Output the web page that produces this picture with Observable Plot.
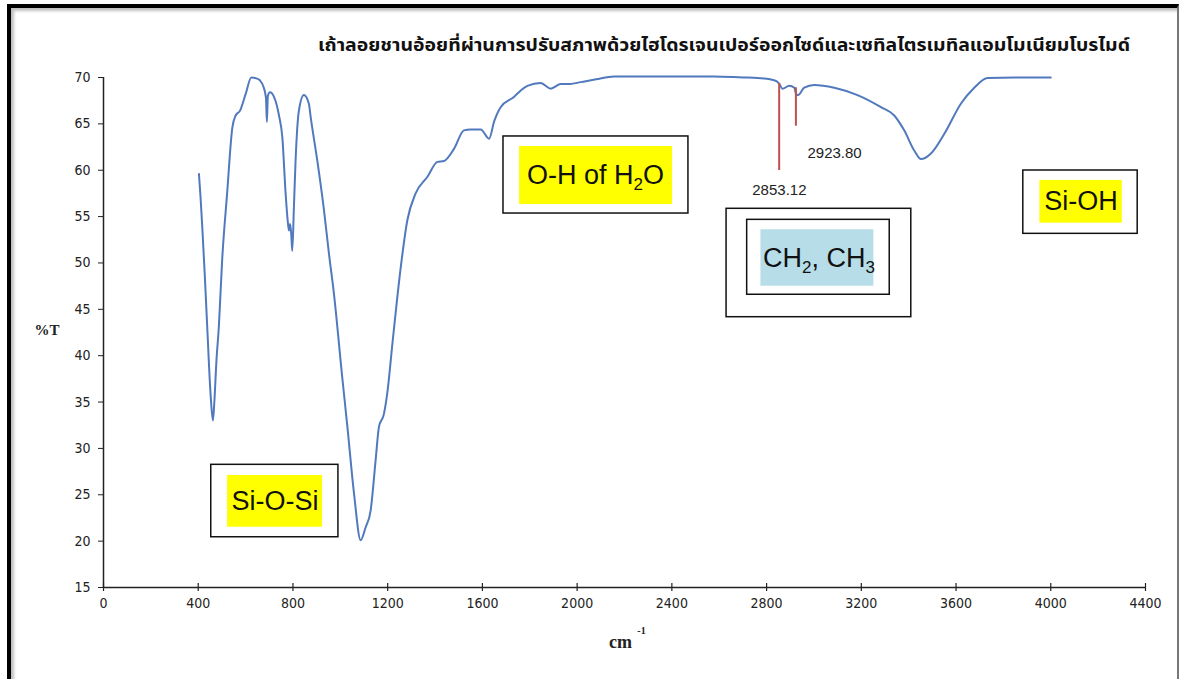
<!DOCTYPE html>
<html>
<head>
<meta charset="utf-8">
<script src="https://cdn.jsdelivr.net/npm/d3@7"></script>
<script src="https://cdn.jsdelivr.net/npm/@observablehq/plot@0.6"></script>
<style>
  body { margin: 0; background: #fff; }
  #wrap { position: relative; width: 1184px; height: 679px; overflow: hidden; background: #fff; }
  #frame { position: absolute; left: 7px; top: 4px; width: 1172px; height: 720px; box-sizing: border-box;
           border-left: 4px solid #000; border-top: 4px solid #000; border-right: 2px solid #777;
           box-shadow: inset 3px 3px 3px rgba(0,0,0,0.25); }
  #title { position: absolute; left: 318px; top: 31px; white-space: nowrap; transform-origin: left center;
           font-family: "Noto Sans Thai", "Noto Sans", "DejaVu Sans", sans-serif; font-weight: bold;
           font-size: 17px; color: #111; line-height: 30px; }
  #chart { position: absolute; left: 0; top: 60px; }
</style>
</head>
<body>
<div id="wrap">
  <div id="frame"></div>
  <div id="title">เถ้าลอยชานอ้อยที่ผ่านการปรับสภาพด้วยไฮโดรเจนเปอร์ออกไซด์และเซทิลไตรเมทิลแอมโมเนียมโบรไมด์</div>
  <div id="chart"></div>
</div>
<script>
// ---- data ----
const wavenumber = [403,410,417,428,438,452,462,468,477,487,501,522,544,558,576,600,624,645,660,677,686,690,694,703,720,741,755,769,778,783,788,793,797,804,811,825,846,867,875,903,931,952,973,1008,1030,1058,1086,1107,1128,1149,1163,1184,1198,1220,1255,1283,1318,1368,1410,1438,1480,1522,1550,1593,1628,1650,1677,1733,1762,1790,1846,1888,1931,1970,2015,2080,2156,2367,2578,2700,2762,2832,2853,2867,2896,2917,2925,2933,2959,3001,3086,3184,3283,3339,3381,3424,3452,3494,3550,3621,3677,3733,3850,4000];
const transmittance = [59.6,57.0,53.9,48.5,43.1,35.9,33.0,35.0,39.5,43.1,50.3,57.5,64.6,65.9,66.4,68.2,70.0,69.9,69.7,68.9,67.8,65.2,68.0,68.4,67.9,65.9,63.6,57.5,54.5,53.5,54.2,53.0,51.3,56.0,61.0,66.4,68.1,67.2,65.7,61.0,55.7,51.0,46.7,37.7,32.3,25.1,20.1,21.5,23.3,28.7,32.3,33.7,35.9,41.3,49.5,54.6,57.5,59.3,60.9,61.0,62.3,64.3,64.4,64.4,63.4,65.3,66.8,67.9,68.6,69.1,69.4,68.8,69.3,69.3,69.5,69.8,70.1,70.1,70.1,70.0,69.95,69.7,69.35,68.8,69.1,68.9,68.2,68.1,68.9,69.2,68.9,68.1,66.8,65.9,64.3,62.1,61.2,61.8,63.9,67.2,68.9,69.95,70.0,70.0];
const xTicks = [0,400,800,1200,1600,2000,2400,2800,3200,3600,4000,4400];
const yTicks = [15,20,25,30,35,40,45,50,55,60,65,70];
const peakWavenumbers = [2853.12, 2923.80];
const peakLabels = ["2853.12", "2923.80"];
const bandLabels = ["Si-O-Si", "O-H of H2O", "CH2, CH3", "Si-OH"];

// ---- annotation layout (data units) ----
const peakLayout = [
  {top: 69.35, bottom: 59.97, lx: 2854, ly: 57.8},
  {top: 68.9, bottom: 64.75, lx: 3087, ly: 61.8}
];
const bandLayout = [
  {outer: [455, 992, 20.42, 28.23], fill: [524, 925, 21.5, 27.08], color: "#ffff00", tx: 724, ty: 24.3},
  {outer: [1689, 2470, 55.33, 63.64], fill: [1757, 2403, 56.3, 62.56], color: "#ffff00", tx: 2078, ty: 59.4},
  {outer: [2631, 3411, 44.15, 55.84], inner: [2718, 3320, 46.57, 54.65], fill: [2776, 3253, 47.49, 53.58], color: "#b7dde8", tx: 3021, ty: 50.5},
  {outer: [3884, 4367, 53.14, 59.97], fill: [3954, 4302, 54.29, 58.9], color: "#ffff00", tx: 4128, ty: 56.6}
];

const spectrum = wavenumber.map((w, i) => ({w, t: transmittance[i]}));
const peaks = peakWavenumbers.map((w, i) => ({w, label: peakLabels[i], ...peakLayout[i]}));
const bands = bandLabels.map((label, i) => ({label, ...bandLayout[i]}));
const frames = [];
bands.forEach(b => { frames.push(b.outer); if (b.inner) frames.push(b.inner); });
const fills = bands.map(b => ({r: b.fill, color: b.color}));

const tickFont = "'DejaVu Sans Condensed', 'DejaVu Sans', sans-serif";
const labelFont = "'Liberation Sans', Arial, sans-serif";

const chart = Plot.plot({
  width: 1184, height: 619,
  marginLeft: 103, marginRight: 39, marginTop: 17, marginBottom: 92,
  x: {domain: [0, 4400]},
  y: {domain: [15, 70]},
  style: {background: "transparent", color: "#111", fontFamily: tickFont, fontSize: "14px"},
  marks: [
    Plot.rect(fills, {x1: d => d.r[0], x2: d => d.r[1], y1: d => d.r[2], y2: d => d.r[3], fill: d => d.color}),
    Plot.rect(frames, {x1: d => d[0], x2: d => d[1], y1: d => d[2], y2: d => d[3], fill: "none", stroke: "#111", strokeWidth: 1.5}),
    Plot.ruleY([15], {stroke: "#222", strokeWidth: 1.5}),
    Plot.ruleX([0], {stroke: "#222", strokeWidth: 1.5}),
    Plot.ruleX(xTicks, {x: d => d, y1: 15, y2: 15, insetTop: -4, insetBottom: -4, stroke: "#222", strokeWidth: 1.2}),
    Plot.axisX({ticks: xTicks, tickSize: 0, tickPadding: 11, label: null, tickFormat: d => String(d), fill: "#222"}),
    Plot.axisY({ticks: yTicks, tickSize: 5, tickPadding: 8, label: null, stroke: "#222", fill: "#222"}),
    Plot.text(["%T"], {frameAnchor: "left", dx: -69, dy: -2, fontFamily: "'Liberation Serif', serif", fontWeight: "bold", fontSize: 15, fill: "#222"}),
    Plot.text(["cm"], {frameAnchor: "bottom", dx: -4, dy: 60, fontFamily: "'Liberation Serif', serif", fontWeight: "bold", fontSize: 18, fill: "#222"}),
    Plot.text(["-1"], {frameAnchor: "bottom", dx: 17, dy: 46, fontFamily: "'Liberation Serif', serif", fontWeight: "bold", fontSize: 10, fill: "#222"}),
    Plot.line(spectrum, {x: "w", y: "t", stroke: "#5179bd", strokeWidth: 2, curve: "monotone-x"}),
    Plot.ruleX(peaks, {x: "w", y1: "top", y2: "bottom", stroke: "#c0504d", strokeWidth: 2}),
    Plot.text(peaks, {x: "lx", y: "ly", text: "label", fontFamily: labelFont, fontSize: 15, fill: "#222"}),
    Plot.text(bands, {x: "tx", y: "ty", text: "label", fontFamily: labelFont, fontSize: 27, fill: "#111"})
  ]
});
document.getElementById("chart").appendChild(chart);

// subscripts for chemical formulas
const subs = {"O-H of H2O": [["O-H of H", 0], ["2", 1], ["O", -1]], "CH2, CH3": [["CH", 0], ["2", 1], [", CH", -1], ["3", 1]]};
d3.select(chart).selectAll("text").each(function () {
  const parts = subs[this.textContent];
  if (!parts) return;
  const sel = d3.select(this);
  sel.text("");
  let sub = false;
  parts.forEach(([s, mode]) => {
    const t = sel.append("tspan").text(s);
    if (mode === 1) { t.attr("font-size", 17).attr("dy", sub ? null : "0.35em"); sub = true; }
    else if (mode === -1) { t.attr("dy", "-0.22em"); sub = false; }
  });
});

// fit title width
const title = document.getElementById("title");
const w = title.getBoundingClientRect().width;
title.style.transform = `scaleX(${812 / w})`;
</script>
</body>
</html>
